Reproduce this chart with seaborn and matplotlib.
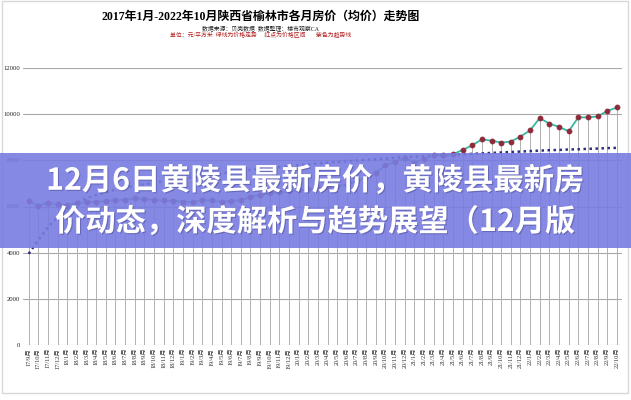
import numpy as np
import pandas as pd
import matplotlib
matplotlib.use('Agg')
import matplotlib.pyplot as plt
import seaborn as sns
from matplotlib.patches import Rectangle
import matplotlib.patheffects as pe

# month labels 17/9月 .. 22/10月
months = [(17, m) for m in range(9, 13)] + [(y, m) for y in range(18, 22) for m in range(1, 13)] + [(22, m) for m in range(1, 11)]
month_labels = [f'{y}/{m}月' for y, m in months]

# average price, yuan per m2
price = [6230, 6040, 6170, 6090, 6080, 6140, 6180, 6200, 6240, 6280,
         6290, 6360, 6320, 6290, 6260, 6250, 6200, 6200, 6280, 6260,
         6200, 6250, 6260, 6420, 6500, 6570, 6610, 6650, 6700, 6740,
         6780, 6830, 6880, 6950, 7100, 7260, 7460, 7780, 7940, 8110,
         7900, 8040, 8220, 8230, 8260, 8450, 8650, 8910, 8850, 8770,
         8810, 9030, 9300, 9830, 9590, 9450, 9260, 9860, 9860, 9900,
         10140, 10290]

# trend line (dotted purple)
trend = [3950, 4550, 5100, 5550, 5900, 6150, 6350, 6500, 6620, 6720,
         6810, 6890, 6960, 7030, 7090, 7150, 7210, 7270, 7330, 7390,
         7440, 7490, 7540, 7590, 7630, 7670, 7710, 7750, 7790, 7830,
         7870, 7900, 7930, 7960, 7990, 8020, 8050, 8080, 8110, 8140,
         8160, 8180, 8200, 8220, 8240, 8260, 8280, 8300, 8320, 8340,
         8360, 8380, 8400, 8420, 8440, 8450, 8470, 8480, 8500, 8510,
         8530, 8540]

y_ticks = [0, 2000, 4000, 6000, 8000, 10000, 12000]

df = pd.DataFrame({'idx': range(len(price)), 'price': price, 'trend': trend})

sns.set_style('white')
plt.rcParams['font.family'] = ['Liberation Serif', 'Noto Sans CJK SC', 'DejaVu Sans']

fig = plt.figure(figsize=(6.31, 4.0), dpi=100)
ax = fig.add_axes([0.037, 0.1375, 0.949, 0.6925])

# drop lines from each point to zero
ax.vlines(df['idx'], 0, df['price'], color='#b0b0b0', linewidth=0.7, zorder=1)
for t in y_ticks:
    ax.axhline(t, color='#a8a8a8', linewidth=0.8, zorder=0)

sns.lineplot(data=df, x='idx', y='trend', ax=ax, color='#2e2e80', linewidth=1.8,
             linestyle=(0, (1, 1.4)), zorder=2)
sns.lineplot(data=df, x='idx', y='price', ax=ax, color='#35b8a0', linewidth=1.3,
             marker='o', markersize=3.4, markerfacecolor='#8f2a3a',
             markeredgecolor='#8f2a3a', zorder=3)

ax.set_xlim(-0.55, len(price) - 0.45)
ax.set_ylim(0, 12000)
ax.set_yticks(y_ticks)
ax.set_yticklabels([str(t) for t in y_ticks], fontsize=4.8, color='#222222')
ax.set_xticks(df['idx'])
ax.set_xticklabels(month_labels, rotation=90, fontsize=4.6, color='#333333')
ax.tick_params(axis='both', length=0, pad=2)
ax.set_xlabel('')
ax.set_ylabel('')
for s in ax.spines.values():
    s.set_visible(False)

# titles
fig.text(0.413, 0.957, '2017年1月-2022年10月陕西省榆林市各月房价（均价）走势图',
         ha='center', va='center', fontsize=8.6, fontweight='bold', color='#000000')
fig.text(0.413, 0.93, '数据来源：贝壳数据  数据整理：楼市观察CA',
         ha='center', va='center', fontsize=4.2, color='#222222')
fig.text(0.413, 0.912, '单位：元/平方米  绿线为价格走势     红点为价格区间       紫色为趋势线',
         ha='center', va='center', fontsize=4.2, color='#b02020')

# frame around the screenshot
fig.patches.append(Rectangle((0.003, 0.018), 0.992, 0.98, transform=fig.transFigure,
                             fill=False, edgecolor='#d8d8d8', linewidth=1.0))

# overlay banner
fig.patches.append(Rectangle((0, 0.38), 1, 0.2375, transform=fig.transFigure,
                             facecolor='#787ce0', alpha=0.9, edgecolor='none', zorder=10))
for txt, yy in [('12月6日黄陵县最新房价，黄陵县最新房', 0.548),
                ('价动态，深度解析与趋势展望（12月版', 0.445)]:
    fig.text(0.499, yy, txt, ha='center', va='center', fontsize=21.8, fontweight='bold',
             color='white', zorder=11, family=['Noto Sans CJK SC', 'DejaVu Sans'],
             path_effects=[pe.withSimplePatchShadow(offset=(0.8, -0.8), shadow_rgbFace='#4a4a90', alpha=0.5)])

fig.savefig('out.png', dpi=100)
